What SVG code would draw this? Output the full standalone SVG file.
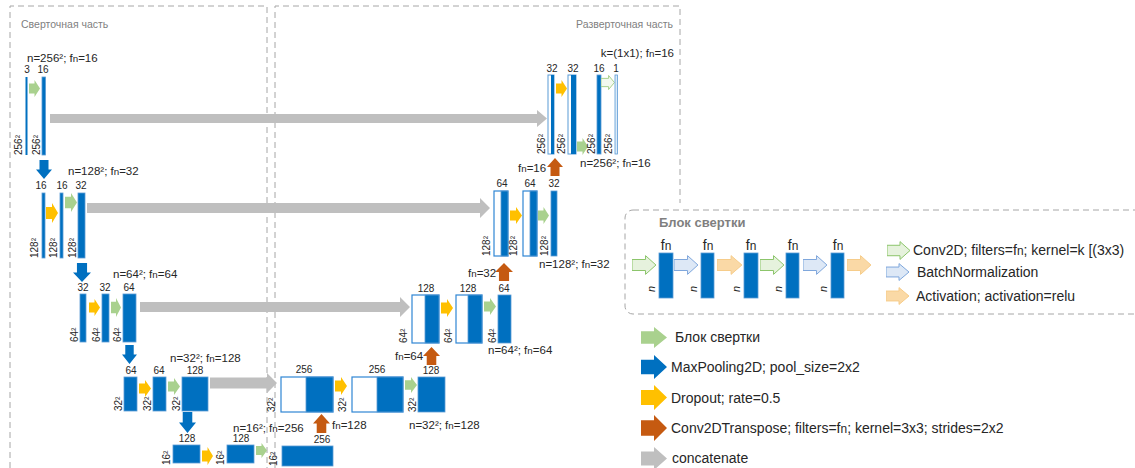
<svg xmlns="http://www.w3.org/2000/svg" width="1135" height="468" viewBox="0 0 1135 468">
<style>
.t{font-family:"Liberation Sans",Arial,sans-serif;fill:#262626}
.m{font-size:11.5px}
.s{font-size:10px}
.c{text-anchor:middle}
.sub{font-size:0.85em}
.b{fill:#0070C0;stroke:#5B9BD5;stroke-width:0.8}
.w{fill:#fff;stroke:#2F86D4;stroke-width:1.2}
.d{fill:none;stroke:#A6A6A6;stroke-width:1;stroke-dasharray:6 4}
.lg{font-size:14px}
</style>
<defs>
<symbol id="ar" viewBox="0 0 12 16" preserveAspectRatio="none"><polygon points="0,3.2 6,3.2 6,0 12,8 6,16 6,12.8 0,12.8"/></symbol>
<symbol id="arh" viewBox="0 0 12 16" preserveAspectRatio="none"><polygon vector-effect="non-scaling-stroke" points="0,3.6 6.5,3.6 6.5,0.5 11.5,8 6.5,15.5 6.5,12.4 0,12.4"/></symbol>
<symbol id="dn" viewBox="0 0 16 18" preserveAspectRatio="none"><polygon points="3.5,0 12.5,0 12.5,9 16,9 8,18 0,9 3.5,9"/></symbol>
<symbol id="up" viewBox="0 0 16 18" preserveAspectRatio="none"><polygon points="3.5,18 12.5,18 12.5,9 16,9 8,0 0,9 3.5,9"/></symbol>
</defs>
<rect width="1135" height="468" fill="#fff"/>

<g id="frames">
<path class="d" d="M10,468 V6 H267 V468"/>
<path class="d" d="M275,468 V6 H680 V203"/>
<text class="t" x="21" y="28" font-size="10.5" style="fill:#808080">Сверточная часть</text>
<text class="t" x="673" y="28" font-size="10.5" text-anchor="end" style="fill:#808080">Разверточная часть</text>
</g>

<g id="connectors">
<polygon fill="#BFBFBF" points="50,114 537,114 537,110 547,118.5 537,127 537,123 50,123"/>
<polygon fill="#BFBFBF" points="87,203 480,203 480,198 490,208 480,218 480,213 87,213"/>
<polygon fill="#BFBFBF" points="140,302 400,302 400,297 410,307 400,317 400,312 140,312"/>
<polygon fill="#BFBFBF" points="210,377.5 267,377.5 267,373 277,383 267,393 267,388.5 210,388.5"/>
<use href="#dn" x="36" y="160" width="16" height="19" fill="#0070C0"/>
<use href="#dn" x="73" y="263" width="18" height="19" fill="#0070C0"/>
<use href="#dn" x="122" y="345" width="15" height="19" fill="#0070C0"/>
<use href="#dn" x="179" y="412" width="17" height="21" fill="#0070C0"/>
<use href="#up" x="313" y="414" width="17" height="19" fill="#C55A11"/>
<use href="#up" x="423" y="347" width="17" height="18" fill="#C55A11"/>
<use href="#up" x="495" y="263" width="18" height="18" fill="#C55A11"/>
<use href="#up" x="547" y="158" width="16" height="18" fill="#C55A11"/>
<text class="t m" x="332" y="429">f<tspan class="sub">n</tspan>=128</text>
<text class="t m" x="395" y="360">f<tspan class="sub">n</tspan>=64</text>
<text class="t m" x="468" y="277">f<tspan class="sub">n</tspan>=32</text>
<text class="t m" x="518" y="172">f<tspan class="sub">n</tspan>=16</text>
</g>

<g id="enc1">
<text class="t m" x="27" y="62">n=256²; f<tspan class="sub">n</tspan>=16</text>
<text class="t s c" x="27" y="73">3</text>
<text class="t s c" x="43" y="73">16</text>
<rect x="25.5" y="77" width="2" height="78" fill="#0070C0"/>
<use href="#ar" x="29" y="80" width="11" height="17" fill="#A9D18E"/>
<rect class="b" x="42" y="77" width="3.5" height="78"/>
<text class="t s" transform="translate(22,155) rotate(-90)">256²</text>
<text class="t s" transform="translate(40,155) rotate(-90)">256²</text>
</g>

<g id="enc2">
<text class="t m" x="68" y="175">n=128²; f<tspan class="sub">n</tspan>=32</text>
<text class="t s c" x="41" y="189">16</text>
<text class="t s c" x="62" y="189">16</text>
<text class="t s c" x="81" y="189">32</text>
<rect class="b" x="42" y="193" width="3" height="65"/>
<use href="#ar" x="46" y="203" width="12" height="20" fill="#FFC000"/>
<rect class="b" x="60" y="193" width="3" height="65"/>
<use href="#ar" x="65" y="193" width="12" height="19" fill="#A9D18E"/>
<rect class="b" x="78" y="193" width="7" height="65"/>
<text class="t s" transform="translate(38,258) rotate(-90)">128²</text>
<text class="t s" transform="translate(57,258) rotate(-90)">128²</text>
<text class="t s" transform="translate(76,258) rotate(-90)">128²</text>
</g>

<g id="enc3">
<text class="t m" x="113" y="278">n=64²; f<tspan class="sub">n</tspan>=64</text>
<text class="t s c" x="83" y="291">32</text>
<text class="t s c" x="105" y="291">32</text>
<text class="t s c" x="129" y="291">64</text>
<rect class="b" x="80" y="294" width="6" height="48"/>
<use href="#ar" x="89" y="299" width="11" height="17" fill="#FFC000"/>
<rect class="b" x="102" y="294" width="7" height="48"/>
<use href="#ar" x="111" y="298" width="10" height="19" fill="#A9D18E"/>
<rect class="b" x="123" y="294" width="13" height="48"/>
<text class="t s" transform="translate(78,342) rotate(-90)">64²</text>
<text class="t s" transform="translate(100,342) rotate(-90)">64²</text>
<text class="t s" transform="translate(121,342) rotate(-90)">64²</text>
</g>

<g id="enc4">
<text class="t m" x="170" y="362">n=32²; f<tspan class="sub">n</tspan>=128</text>
<text class="t s c" x="131" y="374">64</text>
<text class="t s c" x="159" y="374">64</text>
<text class="t s c" x="195" y="374">128</text>
<rect class="b" x="124" y="377" width="13" height="34"/>
<use href="#ar" x="139" y="380" width="12" height="17" fill="#FFC000"/>
<rect class="b" x="153" y="377" width="13" height="34"/>
<use href="#ar" x="168" y="378" width="12" height="17" fill="#A9D18E"/>
<rect class="b" x="182" y="377" width="26" height="34"/>
<text class="t s" transform="translate(122,411) rotate(-90)">32²</text>
<text class="t s" transform="translate(151,411) rotate(-90)">32²</text>
<text class="t s" transform="translate(180,411) rotate(-90)">32²</text>
</g>

<g id="enc5">
<text class="t m" x="233" y="432">n=16²; f<tspan class="sub">n</tspan>=256</text>
<text class="t s c" x="187" y="442">128</text>
<text class="t s c" x="241" y="442">128</text>
<text class="t s c" x="322" y="443">256</text>
<rect class="b" x="173" y="445" width="27" height="18"/>
<use href="#ar" x="202" y="447" width="11" height="18" fill="#FFC000"/>
<rect class="b" x="227" y="445" width="27" height="18"/>
<use href="#ar" x="256" y="443" width="11" height="15" fill="#A9D18E"/>
<rect class="b" x="282" y="446" width="51" height="20"/>
<text class="t s" transform="translate(170,465) rotate(-90)">16²</text>
<text class="t s" transform="translate(224,465) rotate(-90)">16²</text>
<text class="t s" transform="translate(277,466) rotate(-90)">16²</text>
</g>

<g id="dec4">
<text class="t s c" x="304" y="373">256</text>
<rect class="w" x="281" y="377" width="52" height="35"/>
<rect class="b" x="306" y="377" width="27" height="35"/>
<text class="t s" transform="translate(275,412) rotate(-90)">32²</text>
<use href="#ar" x="335" y="377" width="12" height="18" fill="#FFC000"/>
<text class="t s c" x="377" y="373">256</text>
<rect class="w" x="352" y="377" width="51" height="35"/>
<rect class="b" x="377" y="377" width="26" height="35"/>
<text class="t s" transform="translate(346,412) rotate(-90)">32²</text>
<use href="#ar" x="405" y="377" width="12" height="16" fill="#A9D18E"/>
<text class="t s c" x="431" y="374">128</text>
<rect class="b" x="418" y="377" width="27" height="35"/>
<text class="t s" transform="translate(416,412) rotate(-90)">32²</text>
<text class="t m" x="409" y="429">n=32²; f<tspan class="sub">n</tspan>=128</text>
</g>

<g id="dec3">
<text class="t s c" x="426" y="292">128</text>
<rect class="w" x="412" y="295" width="27" height="48"/>
<rect class="b" x="425" y="295" width="14" height="48"/>
<text class="t s" transform="translate(407,343) rotate(-90)">64²</text>
<use href="#ar" x="441" y="299" width="12" height="18" fill="#FFC000"/>
<text class="t s c" x="468" y="292">128</text>
<rect class="w" x="456" y="295" width="26" height="48"/>
<rect class="b" x="468" y="295" width="14" height="48"/>
<text class="t s" transform="translate(452,343) rotate(-90)">64²</text>
<use href="#ar" x="484" y="298" width="12" height="17" fill="#A9D18E"/>
<text class="t s c" x="504" y="292">64</text>
<rect class="b" x="498" y="295" width="13" height="48"/>
<text class="t s" transform="translate(496,343) rotate(-90)">64²</text>
<text class="t m" x="488" y="354">n=64²; f<tspan class="sub">n</tspan>=64</text>
</g>

<g id="dec2">
<text class="t s c" x="502" y="187">64</text>
<rect class="w" x="494" y="191" width="14" height="65"/>
<rect class="b" x="501" y="191" width="7" height="65"/>
<text class="t s" transform="translate(490,256) rotate(-90)">128²</text>
<use href="#ar" x="510" y="207" width="12" height="17" fill="#FFC000"/>
<text class="t s c" x="530" y="187">64</text>
<rect class="w" x="523" y="191" width="14" height="65"/>
<rect class="b" x="530" y="191" width="7" height="65"/>
<text class="t s" transform="translate(517,256) rotate(-90)">128²</text>
<use href="#ar" x="538" y="207" width="11" height="17" fill="#A9D18E"/>
<text class="t s c" x="554" y="187">32</text>
<rect class="b" x="551" y="191" width="6" height="65"/>
<text class="t s" transform="translate(548,256) rotate(-90)">128²</text>
<text class="t m" x="539" y="268">n=128²; f<tspan class="sub">n</tspan>=32</text>
</g>

<g id="dec1">
<text class="t m" x="674" y="57" text-anchor="end">k=(1x1); f<tspan class="sub">n</tspan>=16</text>
<text class="t s c" x="552" y="72">32</text>
<text class="t s c" x="573" y="72">32</text>
<text class="t s c" x="599" y="72">16</text>
<text class="t s c" x="616" y="72">1</text>
<rect x="548" y="75" width="6" height="79" fill="#fff" stroke="#5B9BD5" stroke-width="1"/>
<rect x="551" y="75" width="3" height="79" fill="#0070C0"/>
<use href="#ar" x="556" y="80" width="11" height="17" fill="#FFC000"/>
<rect x="568" y="75" width="8" height="79" fill="#fff" stroke="#5B9BD5" stroke-width="1"/>
<rect x="571" y="75" width="5" height="79" fill="#0070C0"/>
<use href="#ar" x="577" y="138" width="11" height="17" fill="#A9D18E"/>
<rect class="b" x="597" y="75" width="4" height="79"/>
<use href="#arh" x="601" y="75" width="14" height="15" fill="#F3F9EF" stroke="#A9D18E"/>
<rect x="615" y="75" width="2.5" height="79" fill="#DCEBF8" stroke="#5B9BD5" stroke-width="0.8"/>
<text class="t s" transform="translate(545,154) rotate(-90)">256²</text>
<text class="t s" transform="translate(565,154) rotate(-90)">256²</text>
<text class="t s" transform="translate(595,154) rotate(-90)">256²</text>
<text class="t s" transform="translate(612,154) rotate(-90)">256²</text>
<text class="t m" x="580" y="167">n=256²; f<tspan class="sub">n</tspan>=16</text>
</g>

<g id="block-legend">
<rect class="d" x="625" y="210" width="600" height="104" rx="8"/>
<text class="t" x="659" y="227" font-size="13" font-weight="bold" style="fill:#7F7F7F">Блок свертки</text>
<use href="#arh" x="632" y="255" width="25" height="20" fill="#E6F2DD" stroke="#8CC56B"/>
<use href="#arh" x="674" y="255" width="25" height="20" fill="#DDE8F6" stroke="#7FA7DC"/>
<use href="#arh" x="717" y="255" width="26" height="20" fill="#FAD9A6" stroke="#F6CC8A"/>
<use href="#arh" x="760" y="255" width="25" height="20" fill="#E6F2DD" stroke="#8CC56B"/>
<use href="#arh" x="803" y="255" width="25" height="20" fill="#DDE8F6" stroke="#7FA7DC"/>
<use href="#arh" x="847" y="255" width="25" height="20" fill="#FAD9A6" stroke="#F6CC8A"/>
<rect class="b" x="659" y="253" width="14" height="45"/>
<rect class="b" x="701" y="253" width="13" height="45"/>
<rect class="b" x="744" y="253" width="14" height="45"/>
<rect class="b" x="786" y="253" width="13" height="45"/>
<rect class="b" x="831" y="253" width="13" height="45"/>
<text class="t c" font-size="14" x="666" y="250">f<tspan class="sub">n</tspan></text>
<text class="t c" font-size="14" x="708" y="250">f<tspan class="sub">n</tspan></text>
<text class="t c" font-size="14" x="751" y="250">f<tspan class="sub">n</tspan></text>
<text class="t c" font-size="14" x="793" y="250">f<tspan class="sub">n</tspan></text>
<text class="t c" font-size="14" x="838" y="250">f<tspan class="sub">n</tspan></text>
<text class="t" font-size="11" font-style="italic" transform="translate(655,292) rotate(-90)">n</text>
<text class="t" font-size="11" font-style="italic" transform="translate(697,292) rotate(-90)">n</text>
<text class="t" font-size="11" font-style="italic" transform="translate(740,292) rotate(-90)">n</text>
<text class="t" font-size="11" font-style="italic" transform="translate(782,292) rotate(-90)">n</text>
<text class="t" font-size="11" font-style="italic" transform="translate(827,292) rotate(-90)">n</text>
<use href="#arh" x="887" y="241" width="24" height="19" fill="#E6F2DD" stroke="#8CC56B"/>
<text class="t lg" x="913" y="255">Conv2D; filters=f<tspan class="sub">n</tspan>; kernel=k [(3x3)</text>
<use href="#arh" x="886" y="263" width="24" height="18" fill="#DDE8F6" stroke="#7FA7DC"/>
<text class="t lg" x="917" y="277">BatchNormalization</text>
<use href="#arh" x="886" y="287" width="24" height="18" fill="#FAD9A6" stroke="#F6CC8A"/>
<text class="t lg" x="916" y="301">Activation; activation=relu</text>
</g>

<g id="legend">
<use href="#ar" x="641" y="327" width="26" height="21" fill="#A9D18E"/>
<text class="t lg" x="675" y="342">Блок свертки</text>
<use href="#ar" x="641" y="355" width="26" height="24" fill="#0070C0"/>
<text class="t lg" x="671" y="372">MaxPooling2D; pool_size=2x2</text>
<use href="#ar" x="641" y="385" width="26" height="25" fill="#FFC000"/>
<text class="t lg" x="671" y="403">Dropout; rate=0.5</text>
<use href="#ar" x="641" y="415" width="26" height="26" fill="#C55A11"/>
<text class="t lg" x="671" y="433">Conv2DTranspose; filters=f<tspan class="sub">n</tspan>; kernel=3x3; strides=2x2</text>
<use href="#ar" x="641" y="447" width="26" height="23" fill="#BFBFBF"/>
<text class="t lg" x="672" y="463">concatenate</text>
</g>
</svg>
